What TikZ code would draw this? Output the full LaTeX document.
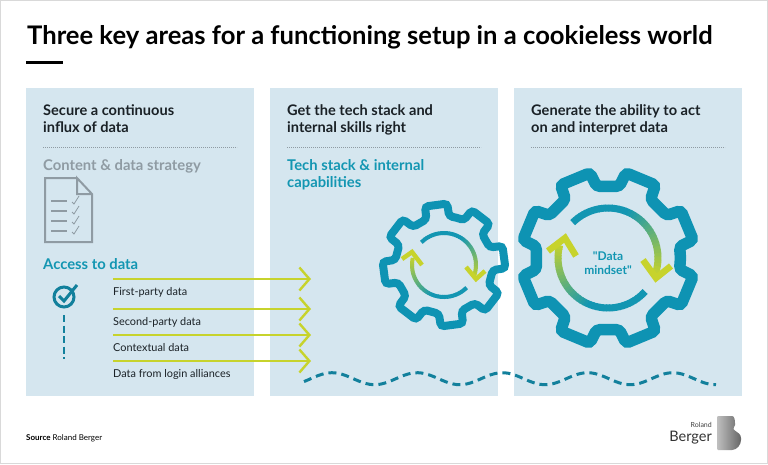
\documentclass[tikz,border=0pt]{standalone}
\usepackage{fontspec}
\setmainfont{Lato}
\newfontfamily\plainfont{Lato}
\usepackage{tikz}
\usetikzlibrary{arrows,arrows.meta,positioning,shapes}
\definecolor{panelc}{HTML}{D5E6EF}
\definecolor{gearc}{HTML}{0E93B3}
\definecolor{tealc}{HTML}{1396B2}
\definecolor{darkc}{HTML}{12809C}
\definecolor{limec}{HTML}{C7D32C}
\definecolor{grayc}{HTML}{8F9BA3}
\definecolor{textc}{HTML}{1A2126}
% gear: centre x, centre y, first tooth angle, outer radius, root radius, line width
\newcommand{\gearat}[6]{
  \gdef\gearpath{}
  \foreach\k in{0,...,7}{
    \pgfmathsetmacro\ga{#3+\k*45-13.5}\pgfmathsetmacro\gb{#3+\k*45-10.5}
    \pgfmathsetmacro\gc{#3+\k*45+10.5}\pgfmathsetmacro\gd{#3+\k*45+13.5}
    \xdef\gearpath{\gearpath--(\ga:#5)--(\gb:#4)--(\gc:#4)--(\gd:#5)}}
  \pgfmathsetmacro\gs{#3-22.5}
  \draw[gearc,line width=#6pt,rounded corners=3.5pt,shift={(#1,#2)},y=1pt](\gs:#5)\gearpath--cycle;}
% fading arc: centre x, centre y, radius, from angle, to angle, angle where the fade starts, line width
\newcommand{\fadearc}[7]{
  \foreach\i in{0,...,39}{
    \pgfmathsetmacro\aa{#4+(#5-#4)*\i/40}
    \pgfmathsetmacro\ab{#4+(#5-#4)*(\i+1.2)/40}
    \pgfmathtruncatemacro\mx{max(0,min(100,100*(\aa-#6)/(#5-#6)))}
    \draw[limec!\mx!tealc,line width=#7pt,shift={(#1,#2)},y=1pt](\aa:#3)arc[start angle=\aa,end angle=\ab,radius=#3];}}
\begin{document}
\begin{tikzpicture}[x=1pt,y=-1pt,inner sep=0pt]
  \useasboundingbox(0,0)rectangle(768,464);
  \tikzstyle{head}=[font=\fontsize{14.6}{17}\selectfont\bfseries,text=textc,anchor=base west,align=left]
  \tikzstyle{sub}=[font=\fontsize{14.8}{16.5}\selectfont\bfseries,anchor=base west,align=left]
  \tikzstyle{row}=[font=\fontsize{10.9}{12}\selectfont,text=textc,anchor=base west]
  \tikzstyle{lim}=[-{Straight Barb[length=10pt,width=23pt,line width=2.4pt]},limec,line width=2.4pt]
  \tikzstyle{dot}=[grayc,line width=.8pt,dash pattern=on .8pt off 1.2pt]
  \fill[white](0,0)rectangle(768,464);
  \draw[black!15,line width=1pt](.5,.5)rectangle(767.5,463.5);
  \foreach\x/\n in{26/pa,270/pb,514/pc}{\fill[panelc](\x,88)coordinate(\n)rectangle(\x+228,396);
    \draw[dot](\x+17,147)--(\x+211,147);}
  \node[anchor=base west,font=\fontsize{25.6}{30}\selectfont\bfseries](title)at(27,44){Three key areas for a functioning setup in a cookieless world};
  \fill(26,61)rectangle(63,64);
  \node[head](ha)at(43,132){Secure a continuous\\[0pt]influx of data};
  \node[head](hb)at(287,132){Get the tech stack and\\[0pt]internal skills right};
  \node[head](hc)at(531,132){Generate the ability to act\\[0pt]on and interpret data};
  \node[sub,text=grayc](content)at(43,170){Content \& data strategy};
  \node[sub,text=tealc](tech)at(287,187){Tech stack \& internal\\[0pt]capabilities};
  \node[sub,text=tealc](access)at(43,269){Access to data};
  % document icon
  \draw[grayc,line width=2pt,line join=miter](77,178)--(45,178)--(45,242)--(92,242)--(92,194)--(77,178)--(77,194)--(92,194);
  \foreach\y in{201,211,221,231}{\draw[grayc,line width=1.8pt](51,\y)--(67,\y);
    \draw[grayc,line width=.8pt](72,\y+1)--(74,\y+3)--(79,\y-5);}
  % tick and dashes
  \node[circle,draw=darkc,line width=3pt,minimum size=20pt](tick)at(64,297){};
  \draw[darkc,line width=3pt](59,296)--(64,301)--(77,285);
  \coordinate(dt)at(64,315);\coordinate(db)at(64,359);
  \draw[darkc,line width=2.8pt,dash pattern=on 7pt off 3.5pt](dt)--(db);
  % data rows
  \node[row](ra)at(113,295){First-party data};
  \node[row](rb)at(113,325){Second-party data};
  \node[row](rc)at(113,351){Contextual data};
  \node[row](rd)at(113,377){Data from login alliances};
  \foreach\n/\y in{a/279,b/309,c/335,d/361}{
    \coordinate(s\n)at(113,\y);\coordinate(e\n)at(311,\y);
    \draw[lim](s\n)--(e\n);}
  % wave
  \draw[darkc,line width=3pt,dash pattern=on 8pt off 5pt,domain=304:716,samples=120,variable=\u]
    plot(\u,{378.7-6*cos(4.2254*(\u-332))});
  % gears
  \gearat{444}{265}{97.5}{61.5}{49}{8}
  \fadearc{444}{265}{32}{135}{-20}{60}{4}
  \fadearc{444}{265}{32}{-45}{-192}{-110}{4}
  \tikzstyle{tip}=[limec,line join=miter]
  \draw[tip,line width=4.5pt](466,267)--(476,279)--(485,271);
  \draw[tip,line width=4.5pt](402,259)--(412,252)--(422,265);
  \gearat{608}{258}{22.5}{87}{72.5}{11.5}
  \fadearc{608}{258}{50}{135}{-17}{70}{7}
  \fadearc{608}{258}{50}{-42}{-194}{-110}{7}
  \draw[tip,line width=6.5pt](643,260)--(656,278)--(671,266);
  \draw[tip,line width=6.5pt](548,251)--(565,238)--(576,256);
  \node[font=\fontsize{12}{13.5}\plainfont\selectfont\bfseries,text=tealc,align=center](mind)at(608,263){"Data\\[0pt]mindset"};
  % footer
  \node[anchor=base west,font=\fontsize{8}{9}\selectfont](src)at(26,440){\textbf{Source} Roland Berger};
  \node[anchor=base east,font=\fontsize{7}{9}\selectfont,text=black!75](rol)at(712,427){Roland};
  \node[anchor=base east,font=\fontsize{14.5}{19}\selectfont,text=black!80](ber)at(712,441){Berger};
  \shade[left color=black!25,middle color=black!8,right color=black!60,rounded corners=1pt]
    (717,416)--(731,416)to[out=0,in=90](735,424)to[out=-90,in=120](734,430)to[out=-30,in=90](741,439)to[out=-90,in=0](731,450)--(717,450)--cycle;
\end{tikzpicture}
\end{document}
